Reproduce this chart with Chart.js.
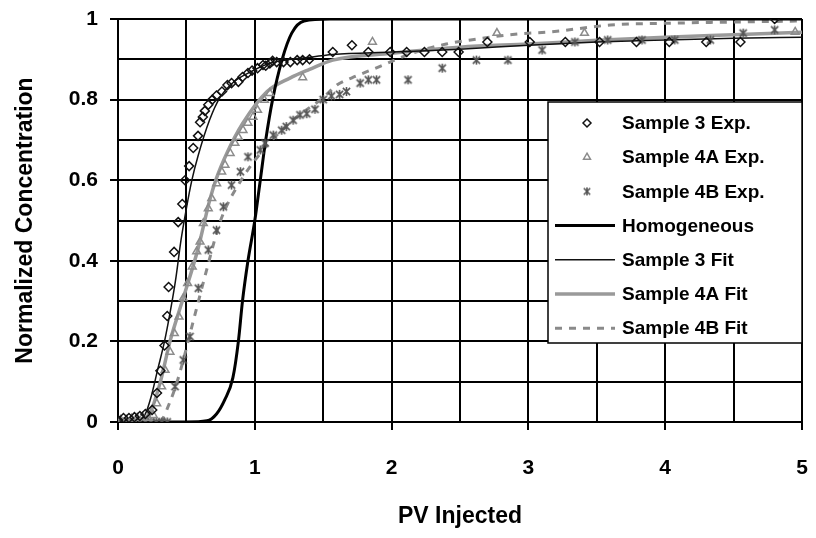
<!DOCTYPE html>
<html>
<head>
<meta charset="utf-8">
<script src="https://cdn.jsdelivr.net/npm/chart.js@4/dist/chart.umd.min.js"></script>
<style>
  html, body { margin: 0; padding: 0; background: #fff; }
  #wrap { width: 816px; height: 538px; }
</style>
</head>
<body>
<div id="wrap"><canvas id="breakthrough" width="816" height="538"></canvas></div>
<script>
// measured points (PV injected, C/C0)
const s3ExpX = [0, 0.04, 0.08, 0.12, 0.16, 0.2, 0.25, 0.285, 0.31, 0.34, 0.36, 0.37, 0.41, 0.44, 0.47, 0.49,
  0.52, 0.55, 0.585, 0.6, 0.62, 0.635, 0.66, 0.69, 0.72, 0.76, 0.8, 0.83, 0.88, 0.91, 0.95, 0.98, 1.02, 1.06,
  1.08, 1.11, 1.13, 1.16, 1.21, 1.26, 1.31, 1.35, 1.4, 1.57, 1.71, 1.83, 1.99, 2.11, 2.24, 2.37, 2.49, 2.7,
  3.01, 3.27, 3.52, 3.79, 4.03, 4.3, 4.55, 4.8];
const s3ExpY = [0.005, 0.01, 0.01, 0.012, 0.015, 0.02, 0.03, 0.072, 0.127, 0.19, 0.263, 0.335, 0.422, 0.496, 0.541, 0.6,
  0.635, 0.68, 0.71, 0.744, 0.757, 0.772, 0.787, 0.8, 0.81, 0.82, 0.836, 0.841, 0.844, 0.856, 0.866, 0.872, 0.878, 0.886,
  0.884, 0.89, 0.896, 0.893, 0.893, 0.893, 0.898, 0.898, 0.9, 0.918, 0.935, 0.918, 0.918, 0.918, 0.918, 0.918, 0.918, 0.943,
  0.943, 0.943, 0.943, 0.943, 0.943, 0.943, 0.943, 1.0];

const s4aExpX = [0.02, 0.06, 0.1, 0.14, 0.18, 0.22, 0.258, 0.283, 0.319, 0.344, 0.38, 0.412, 0.446, 0.477, 0.509, 0.543,
  0.575, 0.6, 0.624, 0.66, 0.685, 0.721, 0.758, 0.782, 0.82, 0.855, 0.88, 0.914, 0.95, 0.987, 1.02, 1.07, 1.11,
  1.35, 1.86, 2.77, 3.41, 4.95];
const s4aExpY = [0.005, 0.005, 0.008, 0.01, 0.012, 0.01, 0.017, 0.046, 0.088, 0.129, 0.174, 0.22, 0.261, 0.307, 0.344, 0.385,
  0.423, 0.447, 0.493, 0.53, 0.555, 0.592, 0.621, 0.638, 0.667, 0.692, 0.707, 0.724, 0.742, 0.757, 0.774, 0.799, 0.816,
  0.855, 0.943, 0.965, 0.965, 0.968];

const s4bExpX = [0, 0.04, 0.08, 0.12, 0.16, 0.2, 0.24, 0.28, 0.32, 0.36, 0.417, 0.477, 0.526, 0.587, 0.66, 0.72, 0.77,
  0.83, 0.895, 0.95, 1.04, 1.075, 1.135, 1.197, 1.23, 1.28, 1.33, 1.38, 1.44, 1.5, 1.56, 1.62, 1.67, 1.77, 1.83,
  1.89, 2.12, 2.37, 2.62, 2.85, 3.1, 3.34, 3.58, 3.83, 4.07, 4.33, 4.57, 4.8];
const s4bExpY = [0, 0, 0, 0, 0, 0, 0, 0, 0, 0, 0.088, 0.154, 0.212, 0.332, 0.427, 0.476, 0.534,
  0.588, 0.621, 0.658, 0.675, 0.692, 0.712, 0.724, 0.733, 0.749, 0.762, 0.765, 0.776, 0.8, 0.809, 0.813, 0.82, 0.841, 0.849,
  0.849, 0.849, 0.878, 0.898, 0.898, 0.923, 0.943, 0.948, 0.948, 0.948, 0.948, 0.965, 0.973];

// model curves
const homX = [0, 0.5, 0.65, 0.72, 0.78, 0.84, 0.88, 0.91, 0.95, 1.0, 1.04, 1.08, 1.13, 1.2, 1.27, 1.36, 1.55, 5];
const homY = [0, 0, 0.003, 0.02, 0.055, 0.11, 0.2, 0.3, 0.4, 0.5, 0.6, 0.7, 0.8, 0.9, 0.965, 0.995, 1, 1];

const s3FitX = [0, 0.15, 0.2, 0.24, 0.29, 0.34, 0.38, 0.42, 0.46, 0.5, 0.54, 0.585, 0.67, 0.745, 0.85, 0.965, 1.11,
  1.4, 1.57, 2, 2.5, 3, 3.5, 4, 4.5, 5];
const s3FitY = [0, 0.005, 0.02, 0.06, 0.13, 0.2, 0.27, 0.35, 0.45, 0.53, 0.6, 0.66, 0.75, 0.805, 0.845, 0.868, 0.89,
  0.905, 0.912, 0.918, 0.925, 0.935, 0.943, 0.948, 0.952, 0.955];

const s4aFitX = [0, 0.15, 0.23, 0.31, 0.38, 0.47, 0.585, 0.67, 0.72, 0.8, 0.91, 1.09, 1.26, 1.4, 1.57, 2, 2.5, 3,
  3.5, 4, 4.5, 5];
const s4aFitY = [0, 0.005, 0.02, 0.1, 0.2, 0.3, 0.43, 0.55, 0.605, 0.67, 0.74, 0.82, 0.854, 0.875, 0.898, 0.915, 0.93,
  0.938, 0.947, 0.955, 0.961, 0.967];

const s4bFitX = [0, 0.3, 0.38, 0.45, 0.55, 0.65, 0.75, 0.9, 1.1, 1.3, 1.5, 1.6, 1.71, 1.81, 1.92, 2.15, 2.4, 2.62,
  2.92, 3.16, 3.6, 4.1, 5];
const s4bFitY = [0, 0, 0.05, 0.12, 0.25, 0.38, 0.5, 0.6, 0.69, 0.755, 0.805, 0.836, 0.854, 0.868, 0.883, 0.915, 0.938,
  0.95, 0.963, 0.968, 0.985, 0.99, 0.995];

const seriesNames = ['Sample 3 Exp.', 'Sample 4A Exp.', 'Sample 4B Exp.', 'Homogeneous',
  'Sample 3 Fit', 'Sample 4A Fit', 'Sample 4B Fit'];

const FONT = '"Liberation Sans", Arial, sans-serif';

function pts(xs, ys) {
  return xs.map((x, i) => ({ x: x, y: ys[i] }));
}

// excel-style star marker: an X with a vertical bar
function starMarker(size, color) {
  const c = document.createElement('canvas');
  c.width = size; c.height = size;
  const g = c.getContext('2d');
  const m = size / 2, r = size / 2 - 1;
  g.strokeStyle = color;
  g.lineWidth = 1.6;
  g.beginPath();
  g.moveTo(m - r * 0.8, m - r * 0.8); g.lineTo(m + r * 0.8, m + r * 0.8);
  g.moveTo(m + r * 0.8, m - r * 0.8); g.lineTo(m - r * 0.8, m + r * 0.8);
  g.moveTo(m, m - r); g.lineTo(m, m + r);
  g.stroke();
  return c;
}
const star = starMarker(11, '#555');
const starSmall = starMarker(10, '#555');

const marker = (name, data, style, color, radius) => ({
  label: name, data: data, showLine: false, pointStyle: style,
  pointRadius: radius, pointBorderColor: color, pointBackgroundColor: 'rgba(255,255,255,0)',
  pointBorderWidth: 1.5, borderColor: color
});

const curve = (name, data, color, width, dash) => ({
  label: name, data: data, showLine: true, pointRadius: 0, borderColor: color,
  borderWidth: width, borderDash: dash || [], cubicInterpolationMode: 'monotone', fill: false
});

const oddTick = v => Math.round(v * 10) % 2 !== 0;
const isWhole = v => Math.abs(v - Math.round(v)) < 1e-6;

// short tick marks only where there is a label
const axisTicks = {
  id: 'axisTicks',
  afterDraw(chart) {
    const ctx = chart.ctx;
    const xs = chart.scales.x, ys = chart.scales.y;
    ctx.save();
    ctx.strokeStyle = '#000';
    ctx.lineWidth = 2;
    ctx.beginPath();
    xs.ticks.forEach(t => {
      if (!isWhole(t.value)) return;
      const px = Math.round(xs.getPixelForValue(t.value));
      ctx.moveTo(px, ys.bottom);
      ctx.lineTo(px, ys.bottom + 8);
    });
    ys.ticks.forEach(t => {
      if (oddTick(t.value)) return;
      const py = Math.round(ys.getPixelForValue(t.value));
      ctx.moveTo(xs.left - 8, py);
      ctx.lineTo(xs.left, py);
    });
    ctx.stroke();
    ctx.restore();
  }
};

// legend drawn inside plot like the original
const insideLegend = {
  id: 'insideLegend',
  afterDraw(chart) {
    const ctx = chart.ctx;
    const area = chart.chartArea;
    const w = 254, h = 241;
    const left = area.right - w, top = area.top + 83;
    ctx.save();
    ctx.fillStyle = '#fff';
    ctx.fillRect(left, top, w, h);
    ctx.strokeStyle = '#000';
    ctx.lineWidth = 1.5;
    ctx.strokeRect(left, top, w, h);
    ctx.font = 'bold 19px ' + FONT;
    ctx.textBaseline = 'middle';
    chart.data.datasets.forEach((ds, i) => {
      const y = top + 21 + i * 34.2;
      if (ds.showLine) {
        ctx.beginPath();
        ctx.strokeStyle = ds.borderColor;
        ctx.lineWidth = ds.borderWidth;
        ctx.setLineDash(ds.borderDash);
        ctx.moveTo(left + 7, y);
        ctx.lineTo(left + 67, y);
        ctx.stroke();
        ctx.setLineDash([]);
      } else {
        const style = ds.pointStyle === star ? starSmall : ds.pointStyle;
        ctx.fillStyle = 'rgba(255,255,255,0)';
        ctx.strokeStyle = ds.pointBorderColor;
        ctx.lineWidth = ds.pointBorderWidth;
        Chart.helpers.drawPoint(ctx, {
          pointStyle: style, radius: ds.pointRadius - 0.5, borderWidth: ds.pointBorderWidth, rotation: 0
        }, left + 39, y);
      }
      ctx.fillStyle = '#000';
      ctx.fillText(ds.label, left + 74, y + 1);
    });
    ctx.restore();
  }
};

new Chart(document.getElementById('breakthrough'), {
  type: 'scatter',
  data: {
    datasets: [
      marker(seriesNames[0], pts(s3ExpX, s3ExpY), 'rectRot', '#111', 4.5),
      marker(seriesNames[1], pts(s4aExpX, s4aExpY), 'triangle', '#8c8c8c', 4.5),
      marker(seriesNames[2], pts(s4bExpX, s4bExpY), star, '#555', 5),
      curve(seriesNames[3], pts(homX, homY), '#000', 3),
      curve(seriesNames[4], pts(s3FitX, s3FitY), '#111', 1.5),
      curve(seriesNames[5], pts(s4aFitX, s4aFitY), '#9a9a9a', 3.5),
      curve(seriesNames[6], pts(s4bFitX, s4bFitY), '#8a8a8a', 3, [7, 7])
    ]
  },
  options: {
    responsive: false,
    animation: false,
    layout: { padding: { top: 19, right: 14, left: 0, bottom: 0 } },
    plugins: {
      legend: { display: false },
      tooltip: { enabled: false }
    },
    scales: {
      x: {
        type: 'linear',
        min: 0,
        max: 5,
        ticks: {
          stepSize: 0.5,
          padding: 2,
          color: '#000',
          maxRotation: 0,
          autoSkip: false,
          font: { family: FONT, size: 21, weight: 'bold' },
          callback: v => (isWhole(v) ? String(Math.round(v)) : '')
        },
        grid: {
          color: '#000',
          lineWidth: 2,
          tickLength: 32,
          tickColor: 'rgba(0,0,0,0)'
        },
        border: { color: '#000', width: 2 },
        title: {
          display: true,
          text: 'PV Injected',
          color: '#000',
          font: { family: FONT, size: 23, weight: 'bold' },
          padding: { top: 8, bottom: 8 }
        },
        afterFit: s => { s.height = 116; }
      },
      y: {
        type: 'linear',
        min: 0,
        max: 1,
        ticks: {
          stepSize: 0.1,
          padding: 0,
          color: '#000',
          autoSkip: false,
          font: { family: FONT, size: 21, weight: 'bold' },
          callback: v => (oddTick(v) ? '' : String(Math.round(v * 10) / 10))
        },
        grid: {
          color: '#000',
          lineWidth: 2,
          tickLength: 20,
          tickColor: 'rgba(0,0,0,0)'
        },
        border: { color: '#000', width: 2 },
        title: {
          display: true,
          text: 'Normalized Concentration',
          color: '#000',
          font: { family: FONT, size: 23, weight: 'bold' },
          padding: { top: 12, bottom: 12 }
        },
        afterFit: s => { s.width = 118; }
      }
    }
  },
  plugins: [axisTicks, insideLegend]
});
</script>
</body>
</html>
